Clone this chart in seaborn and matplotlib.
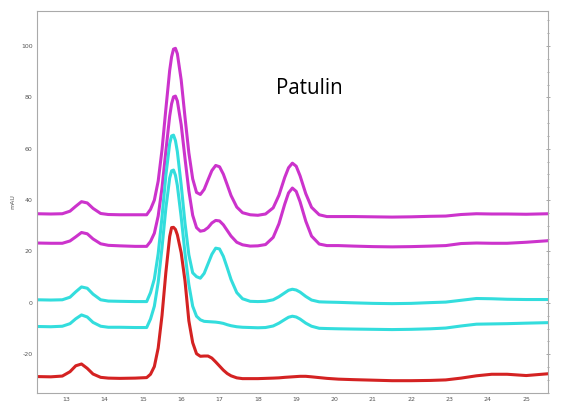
import numpy as np
import pandas as pd
import seaborn as sns
import matplotlib.pyplot as plt
from matplotlib.ticker import MultipleLocator

# retention time (min), shared by all traces
rt = [12.24, 12.6, 12.9, 13.1, 13.25, 13.4, 13.55, 13.7, 13.9, 14.1, 14.4, 14.8, 15.1,
      15.2, 15.3, 15.4, 15.5, 15.6, 15.7, 15.75, 15.8, 15.85, 15.9, 16.0, 16.1, 16.2, 16.3, 16.4, 16.5, 16.6,
      16.7, 16.8, 16.9, 17.0, 17.1, 17.2, 17.3, 17.45, 17.6, 17.8,
      18.0, 18.2, 18.4, 18.55, 18.7, 18.8, 18.9, 19.0, 19.1, 19.25, 19.4, 19.6, 19.8,
      20.1, 20.5, 21.0, 21.5, 22.0, 22.5, 22.9, 23.3, 23.7, 24.1, 24.5, 25.0, 25.57]

# signal (mAU)
magenta_top = [34.7, 34.6, 34.7, 35.7, 37.6, 39.4, 38.9, 36.8, 34.8, 34.4, 34.3, 34.3, 34.3,
               36.4, 40.0, 47.4, 59.6, 75.4, 90.5, 95.8, 98.8, 99.1, 97.0, 86.8, 72.2, 58.4, 48.3, 43.0, 42.2, 44.2,
               47.9, 51.5, 53.5, 53.0, 50.1, 46.0, 41.8, 37.3, 35.1, 34.3,
               34.1, 34.6, 37.0, 41.9, 48.8, 52.6, 54.4, 53.2, 49.5, 42.5, 37.2, 34.3, 33.6,
               33.6, 33.6, 33.5, 33.4, 33.5, 33.7, 33.8, 34.4, 34.7, 34.6, 34.6, 34.5, 34.7]
magenta_low = [23.3, 23.2, 23.2, 24.1, 25.7, 27.4, 26.9, 24.9, 23.0, 22.4, 22.2, 22.0, 22.0,
               23.9, 27.1, 33.8, 44.8, 59.1, 72.7, 77.5, 80.2, 80.5, 78.6, 69.4, 56.2, 43.6, 34.1, 29.3, 27.9, 28.2,
               29.3, 31.1, 32.1, 31.9, 30.4, 28.2, 26.0, 23.6, 22.6, 22.1,
               22.2, 22.7, 25.5, 30.8, 38.4, 42.8, 44.7, 43.4, 39.4, 31.8, 26.0, 22.9, 22.3,
               22.3, 22.1, 21.9, 21.8, 21.9, 22.1, 22.3, 23.1, 23.3, 23.2, 23.2, 23.6, 24.2]
cyan_top = [1.2, 1.1, 1.2, 2.2, 4.3, 6.2, 5.7, 3.4, 1.2, 0.7, 0.6, 0.5, 0.5,
            4.0, 9.3, 19.1, 33.4, 49.6, 62.0, 65.0, 65.3, 63.2, 58.9, 45.9, 31.0, 18.7, 11.7, 10.2, 9.6, 11.5,
            15.2, 18.9, 21.3, 21.0, 18.1, 13.7, 9.1, 4.0, 1.6, 0.6,
            0.5, 0.6, 1.2, 2.4, 3.9, 4.9, 5.3, 5.0, 4.2, 2.5, 1.1, 0.4, 0.3,
            0.2, 0.0, -0.2, -0.3, -0.2, 0.1, 0.3, 1.0, 1.7, 1.6, 1.4, 1.3, 1.3]
cyan_low = [-9.2, -9.3, -9.1, -8.1, -6.2, -4.7, -5.5, -7.6, -9.1, -9.5, -9.5, -9.6, -9.6,
            -6.3, -1.3, 8.0, 21.5, 36.8, 48.6, 51.4, 51.7, 49.7, 45.7, 33.4, 19.2, 7.1, -1.3, -5.2, -6.6, -7.2,
            -7.3, -7.4, -7.5, -7.7, -8.0, -8.5, -8.9, -9.3, -9.5, -9.6,
            -9.7, -9.6, -9.0, -7.9, -6.5, -5.6, -5.2, -5.5, -6.3, -7.9, -9.1, -9.9, -10.0,
            -10.1, -10.2, -10.3, -10.4, -10.3, -10.1, -9.8, -9.0, -8.3, -8.2, -8.1, -7.9, -7.7]
red = [-28.7, -28.8, -28.5, -26.8, -24.5, -23.8, -25.5, -27.7, -29.0, -29.3, -29.4, -29.3, -29.1,
       -27.8, -24.8, -17.6, -4.9, 11.8, 25.8, 29.3, 29.4, 28.6, 26.5, 19.5, 8.5, -7.0, -15.5, -19.8, -20.8, -20.7,
       -20.7, -21.5, -23.0, -24.6, -26.2, -27.5, -28.4, -29.2, -29.5, -29.5,
       -29.5, -29.4, -29.3, -29.2, -29.0, -28.9, -28.8, -28.7, -28.6, -28.6, -28.8, -29.1, -29.4,
       -29.7, -29.9, -30.1, -30.3, -30.3, -30.2, -30.0, -29.3, -28.4, -27.8, -27.8, -28.3, -27.6]

traces = {"m1": magenta_top, "m2": magenta_low, "c1": cyan_top, "c2": cyan_low, "r": red}
colors = {"m1": "#cc33cc", "m2": "#cc33cc", "c1": "#33dddd", "c2": "#33dddd", "r": "#d42222"}

df = pd.concat([pd.DataFrame({"rt": rt, "mAU": v, "trace": k}) for k, v in traces.items()])

sns.set_style("white")
plt.rcParams["font.family"] = ["DejaVu Sans"]
plt.rcParams["axes.unicode_minus"] = False
plt.rcParams["lines.solid_joinstyle"] = "round"

fig = plt.figure(figsize=(5.61, 4.05), dpi=100)
ax = fig.add_axes([0.066, 0.0296, 0.911, 0.943])

sns.lineplot(data=df, x="rt", y="mAU", hue="trace", palette=colors, estimator=None,
             sort=False, legend=False, linewidth=2.2, ax=ax)

ax.set_xlim(12.24, 25.57)
ax.set_ylim(-35.1, 113.6)

ax.xaxis.set_major_locator(MultipleLocator(1))
ax.xaxis.set_minor_locator(MultipleLocator(0.1))
ax.yaxis.set_major_locator(MultipleLocator(20))
ax.yaxis.set_minor_locator(MultipleLocator(5))
ax.tick_params(which="both", direction="inout", colors="#999999", labelcolor="#555555",
               labelsize=4.5, pad=1.5, right=True)
ax.tick_params(which="major", length=3, width=0.6)
ax.tick_params(which="minor", length=1.8, width=0.6)
for s in ax.spines.values():
    s.set_color("#aaaaaa")
    s.set_linewidth(0.8)

ax.set_xlabel("")
ax.set_ylabel("mAU", fontsize=4.5, color="#555555", labelpad=4)

ax.text(19.34, 81.5, "Patulin", fontsize=14.8, family=["Open Sans", "DejaVu Sans"],
        ha="center", va="baseline", color="black")

fig.savefig("out.png", dpi=100)
